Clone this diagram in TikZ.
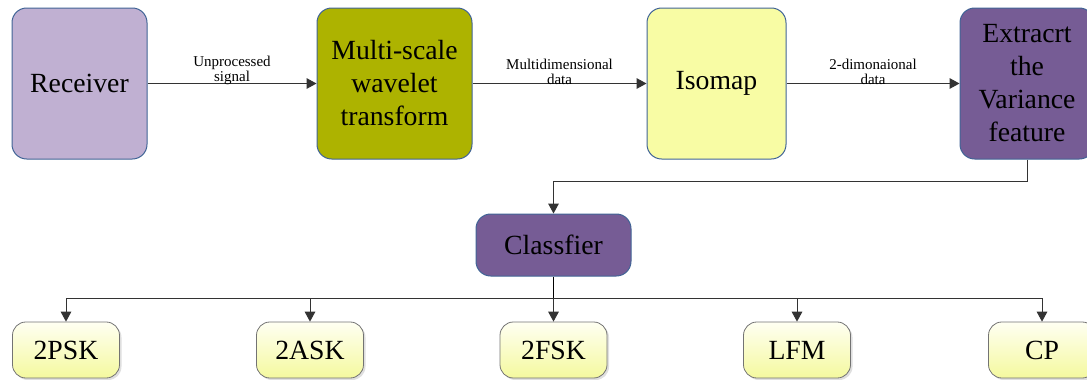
\documentclass[tikz,border=0pt]{standalone}
\usepackage{fontspec}
\setmainfont{Liberation Serif}
\usetikzlibrary{arrows.meta,shadows}

\definecolor{boxline}{RGB}{65,100,150}
\definecolor{recvfill}{RGB}{192,176,210}
\definecolor{wavefill}{RGB}{173,179,0}
\definecolor{isofill}{RGB}{248,252,164}
\definecolor{varfill}{RGB}{118,92,149}
\definecolor{outtop}{RGB}{255,255,242}
\definecolor{outbot}{RGB}{244,249,158}

\tikzset{
  stage/.style={draw=boxline, line width=0.75pt, rounded corners=11pt,
    minimum height=113.25pt, align=center, inner sep=2pt,
    font=\fontsize{20.8}{24.75}\selectfont},
  outbox/.style={draw=black!55, line width=0.6pt, rounded corners=10pt,
    minimum width=80.25pt, minimum height=42pt, top color=outtop, bottom color=outbot,
    drop shadow={shadow xshift=1.5pt, shadow yshift=-1.5pt, opacity=0.25},
    font=\fontsize{20.8}{24.75}\selectfont},
  flow/.style={draw=black!80, line width=0.75pt, -{Triangle[length=7.5pt,width=8pt]}},
  flowlabel/.style={above, inner sep=0pt, yshift=-1.5pt, align=center,
    font=\fontsize{11.25}{11.25}\selectfont}
}

\begin{document}
\begin{tikzpicture}[x=0.75pt,y=0.75pt,yscale=-1,xscale=1]
        \useasboundingbox (0,0) rectangle (1087,379);

        %Shape: Rounded Rect [id:receiver]
        \node[stage, fill=recvfill, minimum width=101.25pt] (recv) at (79.5,83.5) {Receiver};
        %Shape: Rounded Rect [id:wavelet]
        \node[stage, fill=wavefill, minimum width=116.25pt] (wave) at (394.5,83.5) {Multi-scale\\wavelet\\transform};
        %Shape: Rounded Rect [id:isomap]
        \node[stage, fill=isofill, minimum width=104.25pt] (iso) at (716.5,83.5) {Isomap};
        %Shape: Rounded Rect [id:variance]
        \node[stage, fill=varfill, minimum width=100.5pt] (var) at (1027,83.5) {Extracrt\\the\\Variance\\feature};
        %Shape: Rounded Rect [id:classifier]
        \node[stage, fill=varfill, minimum width=116.25pt, minimum height=46.5pt] (cls) at (553.5,245) {Classfier};

        %Shape: Rounded Rect [id:outputs]
        \node[outbox] (psk) at (66,350) {2PSK};
        \node[outbox] (ask) at (310,350) {2ASK};
        \node[outbox] (fsk) at (553.5,350) {2FSK};
        \node[outbox] (lfm) at (797,350) {LFM};
        \node[outbox] (cp) at (1042,350) {CP};

        %Straight Lines [id:top row]
        \draw[flow] (recv) -- node[flowlabel] {Unprocessed\\signal} (wave);
        \draw[flow] (wave) -- node[flowlabel] {Multidimensional\\data} (iso);
        \draw[flow] (iso) -- node[flowlabel] {2-dimonaional\\data} (var);

        %Straight Lines [id:feedback]
        \coordinate (fb) at (553.5,181);
        \draw[flow] (var.south) |- (fb) -- (cls.north);

        %Straight Lines [id:bus]
        \coordinate (bus) at (553.5,298);
        \draw[draw=black, line width=1pt] (cls.south) -- (bus);
        \foreach \out in {psk,ask,fsk,lfm,cp}
          \draw[flow] (bus) -| (\out.north);
\end{tikzpicture}
\end{document}
